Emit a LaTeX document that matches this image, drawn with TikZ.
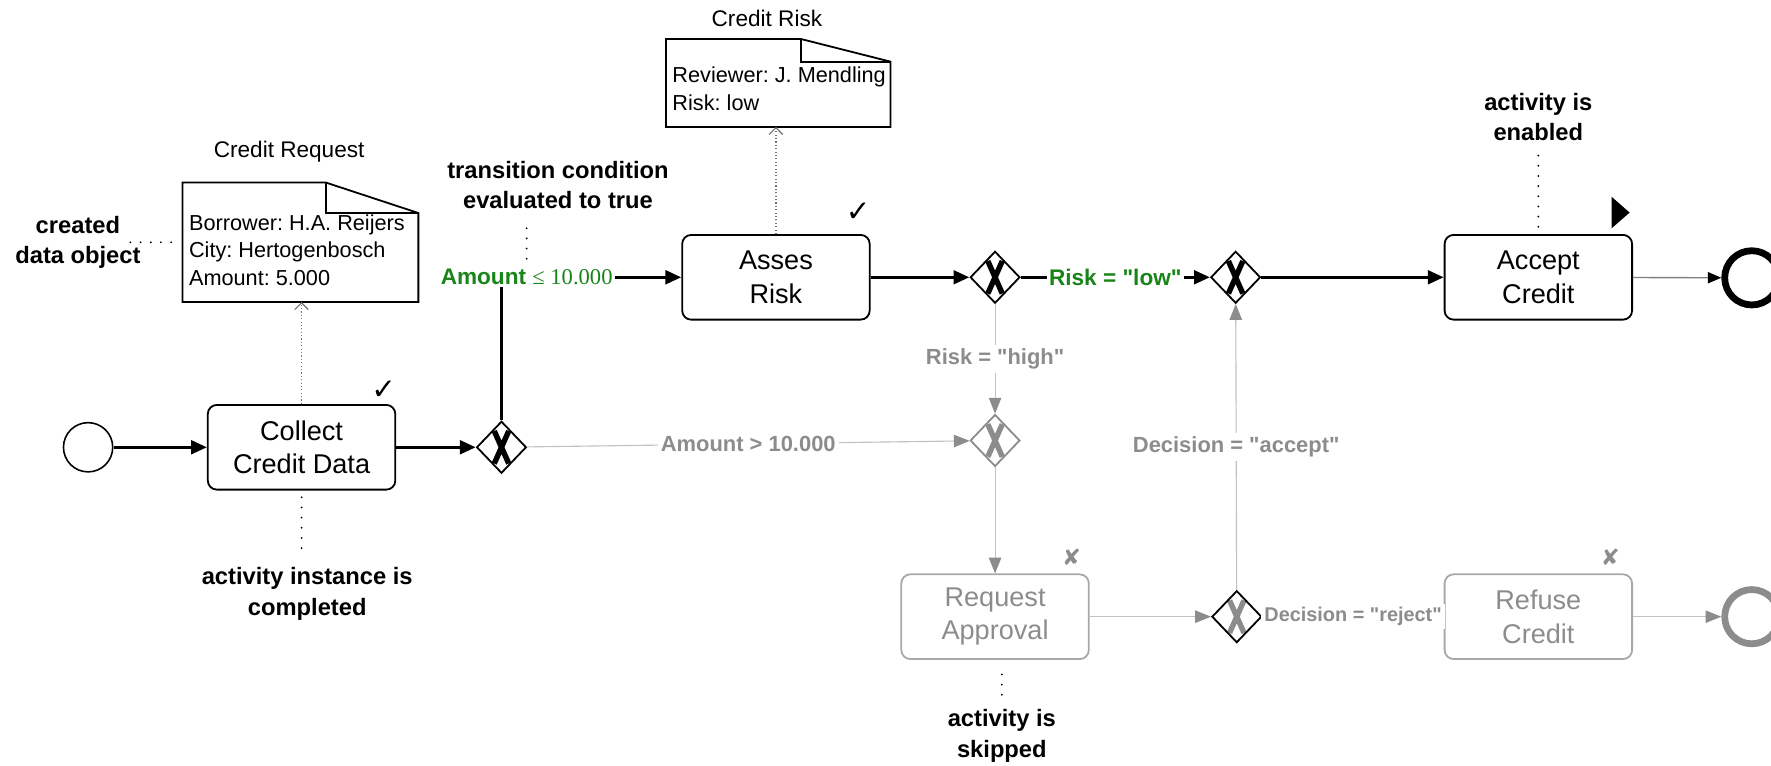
\documentclass[tikz,border=0pt]{standalone}
\usepackage{fontspec}
\setmainfont{Liberation Sans}[Ligatures=TeXOff]
\newfontfamily\condnum{Liberation Serif}
\newfontfamily\marksym{DejaVu Sans}
\usetikzlibrary{arrows.meta,calc,shapes.geometric}
\frenchspacing
\definecolor{CondClr}{rgb}{0.1,0.52,0.1}
\definecolor{SkipClr}{rgb}{0.55,0.55,0.55}
\definecolor{SkipLine}{rgb}{0.76,0.76,0.76}
\definecolor{SkipBorder}{rgb}{0.66,0.66,0.66}

\newcommand{\DataShape}[3]{%
\draw[objline] (#1.north west) -- ($(#1.north east)+(-#2,0)$) -- ($(#1.north east)+(0,#3)$) -- (#1.south east) -- (#1.south west) -- cycle;
\draw[objline] ($(#1.north east)+(-#2,0)$) |- ($(#1.north east)+(0,#3)$);}

\tikzset{
  task/.style={draw,rounded corners=4pt,line width=0.8pt,minimum width=83pt,minimum height=37.5pt,inner sep=0pt,align=center,font=\fontsize{12}{14.8}\selectfont},
  skiptask/.style={task,draw=SkipBorder,text=SkipClr},
  gateway/.style={diamond,draw,line width=0.8pt,minimum width=22pt,minimum height=23pt,inner sep=0pt,
    path picture={\draw[line width=2.4pt,#1] ($(path picture bounding box.center)+(-3.2pt,-7.2pt)$) -- ($(path picture bounding box.center)+(3.2pt,7.2pt)$) ($(path picture bounding box.center)+(-3.2pt,7.2pt)$) -- ($(path picture bounding box.center)+(3.2pt,-7.2pt)$);}},
  gateway/.default=black,
  startevent/.style={circle,draw,line width=0.7pt,minimum size=21.8pt,inner sep=0pt},
  endevent/.style={circle,draw,line width=3pt,minimum size=24pt,inner sep=0pt},
  flow/.style={line width=1.4pt,-{Triangle[length=7pt,width=6pt]}},
  endflow/.style={line width=0.6pt,draw=black!50,-{Triangle[length=6pt,width=5pt,color=black]}},
  skipflow/.style={line width=0.5pt,draw=SkipLine,-{Triangle[length=7pt,width=5.5pt,color=SkipClr]}},
  cond/.style={font=\bfseries\fontsize{10}{12}\selectfont,text=CondClr,fill=white,inner sep=1pt},
  skiplabel/.style={font=\bfseries\fontsize{9.7}{11}\selectfont,text=SkipClr,fill=white,inner sep=1.5pt},
  remark/.style={font=\bfseries\fontsize{10.5}{13.5}\selectfont,align=center},
  note/.style={line width=0.9pt,line cap=round,dash pattern=on 0pt off 4.5pt,shorten <=3pt,shorten >=3pt},
  assoc/.style={densely dotted,draw=black!55,line width=0.5pt,-{Straight Barb[length=3pt,width=6pt]}},
  dataobj/.style={inner sep=0pt},
  objline/.style={line width=0.8pt},
  objtext/.style={font=\fontsize{9.6}{12.2}\selectfont,align=left,inner sep=1pt},
  objtitle/.style={font=\fontsize{10}{12}\selectfont},
  donemark/.style={font=\marksym\bfseries\fontsize{13}{13}\selectfont,inner sep=0pt},
  skipmark/.style={font=\marksym\fontsize{10}{10}\selectfont,text=SkipClr,inner sep=0pt}
}

\begin{document}
\begin{tikzpicture}[x=0.5pt,y=-0.5pt]
\useasboundingbox (0,0) rectangle (1568,678);
\clip (0,0) rectangle (1568,678);

\node[startevent] (start) at (78,396) {};
\node[task] (collect) at (267,396) {Collect\\Credit Data};
\node[gateway] (gw1) at (444,396) {};
\node[task] (asses) at (687,245.5) {Asses\\Risk};
\node[gateway] (gw2) at (881,245.5) {};
\node[gateway] (gw3) at (1094,245.5) {};
\node[task] (accept) at (1362,245.5) {Accept\\Credit};
\node[endevent] (end) at (1551,246) {};
\node[gateway=SkipClr,draw=SkipClr] (gw4) at (881,390) {};
\node[skiptask] (request) at (881,546) {Request\\Approval};
\node[gateway=SkipClr] (gw5) at (1095,546) {};
\node[skiptask] (refuse) at (1362,546) {Refuse\\Credit};
\node[endevent,draw=SkipClr] (end2) at (1551,546) {};

\node[dataobj,minimum width=104pt,minimum height=52.5pt] (reqobj) at (266,214.5) {};
\node[objtext,anchor=west] (reqtext) at (165,221.5) {Borrower: H.A. Reijers\\City: Hertogenbosch\\Amount: 5.000};
\node[objtitle] (reqtitle) at (256,134.5) {Credit Request};
\DataShape{reqobj}{82}{27}
\node[dataobj,minimum width=99pt,minimum height=38.5pt] (riskobj) at (689,73.5) {};
\node[objtext,anchor=west] (risktext) at (593,78.5) {Reviewer: J. Mendling\\Risk: low};
\node[objtitle] (risktitle) at (679,16) {Credit Risk};
\DataShape{riskobj}{79}{20}

\node[donemark] (collectdone) at ($(collect.north east)+(-11,-12)$) {✓};
\node[donemark] (assesdone) at ($(asses.north east)+(-11,-19)$) {✓};
\node[skipmark] (requestskip) at ($(request.north east)+(-16,-14)$) {✘};
\node[skipmark] (refuseskip) at ($(refuse.north east)+(-20,-14)$) {✘};
\fill ($(accept.north east)+(-19,-5)$) -- ++(0,-28) -- ++(16,14) -- cycle;

\node[remark] (created) at (69,214.5) {created\\data object};
\node[remark] (tcond) at (494,164) {transition condition\\evaluated to true};
\node[remark] (completed) at (272,526) {activity instance is\\completed};
\node[remark] (skipped) at (887,651.5) {activity is\\skipped};
\node[remark] (enabled) at (1362,103.5) {activity is\\enabled};

\draw[flow] (start) -- (collect);
\draw[flow] (collect) -- (gw1);
\draw[flow] (gw1) |- node[cond,pos=0.57] (lowamt) {Amount {\condnum\mdseries ≤ 10.000}} (asses);
\draw[flow] (asses) -- (gw2);
\draw[flow] (gw2) -- node[cond] (lowrisk) {Risk = "low"} (gw3);
\draw[flow] (gw3) -- (accept);
\draw[endflow] (accept) -- (end);
\draw[skipflow] (gw1) -- node[skiplabel] (highamt) {Amount > 10.000} (gw4);
\draw[skipflow] (gw2) -- node[skiplabel] (highrisk) {Risk = "high"} (gw4);
\draw[skipflow] (gw4) -- (request);
\draw[skipflow] (request) -- (gw5);
\draw[skipflow] (gw5) -- node[skiplabel] (accepted) {Decision = "accept"} (gw3);
\draw[skipflow] (gw5) -- node[skiplabel,font=\bfseries\fontsize{8.8}{10}\selectfont] (rejected) {Decision = "reject"} (refuse);
\draw[skipflow] (refuse) -- (end2);

\draw[assoc] (collect.north) -- (collect.north |- reqobj.south);
\draw[assoc] (asses.north) -- (asses.north |- riskobj.south);

\draw[note,shorten <=-8pt] (created) -- (reqobj);
\draw[note] (lowamt.north) -- (lowamt.north |- tcond.south);
\draw[note] (collect.south) -- (collect.south |- completed.north);
\draw[note] (skipped.north) -- (skipped.north |- request.south);
\draw[note] (enabled) -- (accept);
\end{tikzpicture}
\end{document}
